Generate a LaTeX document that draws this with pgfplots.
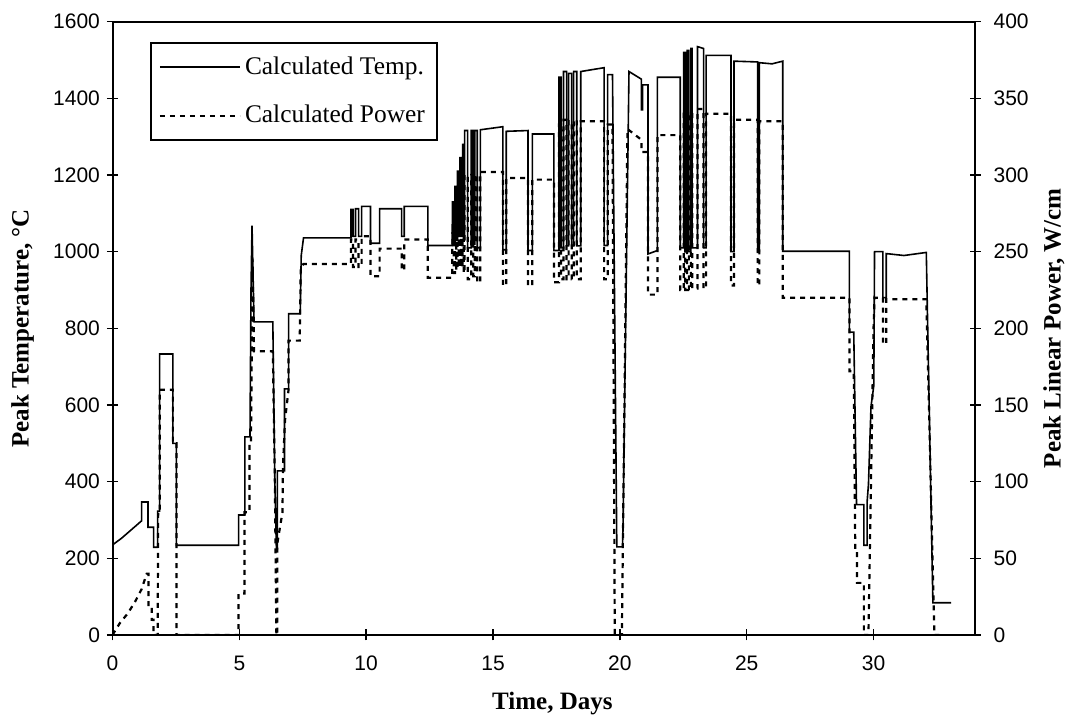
\documentclass[border=0pt]{standalone}
\usepackage{fontspec}
\setmainfont{Liberation Serif}
\newfontfamily\arialfont{Liberation Sans}
\usepackage{pgfplots}
\usepackage{pgfplotstable}
\pgfplotsset{compat=1.18}

\pgfplotstableread{
d T
0.00 235
0.35 252
1.15 298
1.15 347
1.40 347
1.40 281
1.62 281
1.62 229
1.78 229
1.78 323
1.86 323
1.86 733
2.38 733
2.38 500
2.52 500
2.52 234
4.97 234
4.97 313
5.22 313
5.22 517
5.42 517
5.46 900
5.50 1068
5.58 817
6.32 817
6.40 400
6.46 225
6.50 225
6.50 428
6.78 428
6.78 642
6.94 642
6.94 838
7.40 838
7.44 990
7.53 1036
9.40 1036
9.40 1110
9.48 1110
9.48 1040
9.58 1040
9.58 1112
9.70 1112
9.70 1040
9.82 1040
9.82 1118
10.17 1118
10.17 1022
10.53 1022
10.53 1112
11.40 1112
11.40 1040
11.50 1040
11.50 1118
12.43 1118
12.43 1016
13.39 1016
13.40 1130
13.45 1130
13.45 1020
13.50 1020
13.50 1170
13.55 1170
13.55 1030
13.60 1030
13.60 1210
13.65 1210
13.65 1040
13.70 1040
13.70 1245
13.75 1245
13.75 1040
13.80 1040
13.80 1280
13.85 1280
13.85 1030
13.88 1030
13.88 1316
14.00 1316
14.00 1010
14.14 1010
14.14 1316
14.22 1316
14.22 1020
14.28 1020
14.28 1316
14.38 1316
14.38 1010
14.50 1010
14.50 1318
15.39 1326
15.39 1005
15.52 1005
15.52 1314
16.38 1316
16.38 1003
16.55 1003
16.55 1307
17.40 1307
17.40 1003
17.60 1003
17.60 1455
17.68 1455
17.68 1010
17.78 1010
17.78 1470
17.90 1470
17.90 1015
17.98 1015
17.98 1465
18.10 1465
18.10 1015
18.18 1015
18.18 1470
18.30 1470
18.30 1015
18.46 1015
18.46 1470
19.38 1480
19.38 1016
19.52 1016
19.52 1462
19.71 1462
19.88 230
20.10 230
20.12 260
20.36 1470
20.85 1450
20.85 1370
20.90 1370
20.90 1435
21.11 1435
21.11 994
21.48 1003
21.48 1455
22.38 1455
22.38 1010
22.52 1010
22.52 1520
22.58 1520
22.58 1005
22.65 1005
22.65 1525
22.72 1525
22.72 1000
22.80 1000
22.80 1530
22.85 1530
22.85 1010
23.06 1010
23.06 1535
23.30 1530
23.30 1010
23.40 1010
23.40 1512
24.38 1512
24.38 1000
24.50 1000
24.50 1497
25.43 1495
25.43 1000
25.50 1000
25.50 1493
26.00 1490
26.42 1497
26.42 1001
29.05 1001
29.05 790
29.22 790
29.33 340
29.62 340
29.62 234
29.75 234
29.75 350
29.80 393
29.90 596
30.01 650
30.04 1000
30.37 1000
30.37 880
30.50 880
30.50 995
31.20 990
32.08 998
32.34 84
33.06 84
}\temptable

\pgfplotstableread{
d P
0.00 0
0.30 8
0.60 14
0.90 22
1.15 30
1.35 40
1.42 40
1.42 17
1.55 17
1.55 10
1.62 10
1.62 0
1.78 0
1.80 80
1.86 80
1.86 160
2.38 160
2.38 125
2.52 125
2.52 0
4.97 0
4.97 27
5.20 27
5.20 80
5.40 80
5.40 125
5.46 125
5.52 245
5.58 185
6.32 185
6.40 100
6.46 0
6.50 0
6.50 60
6.70 80
6.72 110
6.80 140
6.94 160
6.94 192
7.38 192
7.42 240
7.53 242
9.40 242
9.40 258
9.48 258
9.48 240
9.58 240
9.58 258
9.70 258
9.70 240
9.82 240
9.82 260
10.17 260
10.17 234
10.53 234
10.53 252
11.40 252
11.40 238
11.50 238
11.50 258
12.43 258
12.43 233
13.39 233
13.40 262
13.45 262
13.45 236
13.50 236
13.50 270
13.55 270
13.55 238
13.60 238
13.60 278
13.65 278
13.65 240
13.70 240
13.70 285
13.75 285
13.75 240
13.80 240
13.80 292
13.85 292
13.85 236
13.88 236
13.88 300
14.00 300
14.00 232
14.14 232
14.14 300
14.22 300
14.22 234
14.28 234
14.28 300
14.38 300
14.38 230
14.50 230
14.50 302
15.39 302
15.39 228
15.52 228
15.52 298
16.38 298
16.38 228
16.55 228
16.55 297
17.40 297
17.40 230
17.60 230
17.60 333
17.68 333
17.68 232
17.78 232
17.78 336
17.90 336
17.90 232
17.98 232
17.98 335
18.10 335
18.10 232
18.18 232
18.18 336
18.30 336
18.30 232
18.46 232
18.46 335
19.38 335
19.38 232
19.52 232
19.52 333
19.71 333
19.80 0
20.08 0
20.30 330
20.85 323
20.85 315
21.11 315
21.11 222
21.48 222
21.48 326
22.38 326
22.38 225
22.52 225
22.52 340
22.58 340
22.58 225
22.65 225
22.65 342
22.72 342
22.72 225
22.80 225
22.80 342
22.85 342
22.85 226
23.06 226
23.06 343
23.30 343
23.30 226
23.40 226
23.40 340
24.38 340
24.38 228
24.50 228
24.50 336
25.43 336
25.43 228
25.50 228
25.50 335
26.42 335
26.42 220
29.05 220
29.05 172
29.22 172
29.28 55
29.35 55
29.35 34
29.62 34
29.62 0
29.80 0
29.90 100
30.00 200
30.04 220
30.37 220
30.37 190
30.50 190
30.50 219
32.08 219
32.40 0
32.60 0
}\powertable

\begin{document}
\begin{tikzpicture}
\pgfplotsset{
  common/.style={
    width=431.25pt, height=306.65pt, scale only axis,
    xmin=0, xmax=34,
    tick align=center, major tick length=5.5pt,
    tick style={black, line width=0.8pt},
    axis line style={black, line width=1pt},
    tick label style={font=\arialfont\fontsize{10.5}{12}\selectfont},
    /pgf/number format/assume math mode=true,
    /pgf/number format/1000 sep={},
    label style={font=\bfseries\fontsize{12.5}{14}\selectfont},
  }
}
\begin{axis}[common, name=ax,
  ymin=0, ymax=1600, ytick={0,200,...,1600}, xtick={0,5,...,30},
  ytick pos=left, xtick pos=bottom,
  xticklabel style={yshift=-4pt},
  ylabel={Peak Temperature, °C}, xlabel={Time, Days},
  ylabel style={at={(axis description cs:-0.1043,0.5)}, anchor=center},
  xlabel style={at={(axis description cs:0.51,-0.112)}, anchor=center},
]
\addplot[black, line width=0.8pt] table[x=d,y=T]{\temptable};
\end{axis}
\begin{axis}[common,
  ymin=0, ymax=400, ytick={0,50,...,400},
  axis x line=none, axis y line*=right,
  yticklabel style={xshift=3pt},
  ylabel={Peak Linear Power, W/cm},
  ylabel style={at={(axis description cs:1.0916,0.5)}, anchor=center},
  legend style={at={(axis description cs:0.0435,0.967)}, anchor=north west,
    draw=black, line width=0.8pt, fill=white,
    font=\fontsize{12.7}{15}\selectfont,
    inner xsep=4pt, inner ysep=5pt, row sep=10pt, cells={anchor=west}},
  legend image code/.code={\draw[#1] (0pt,0pt) -- (40pt,0pt);},
]
\addlegendimage{black, line width=0.8pt}
\addlegendentry{Calculated Temp.}
\addplot[black, line width=1.1pt, dash pattern=on 2.5pt off 2.5pt] table[x=d,y=P]{\powertable};
\addlegendentry{Calculated Power}
\end{axis}
\pgfresetboundingbox
\path ([shift={(-56.25pt,-45pt)}]ax.south west) rectangle ([shift={(47.5pt,10.85pt)}]ax.north east);
\end{tikzpicture}
\end{document}
